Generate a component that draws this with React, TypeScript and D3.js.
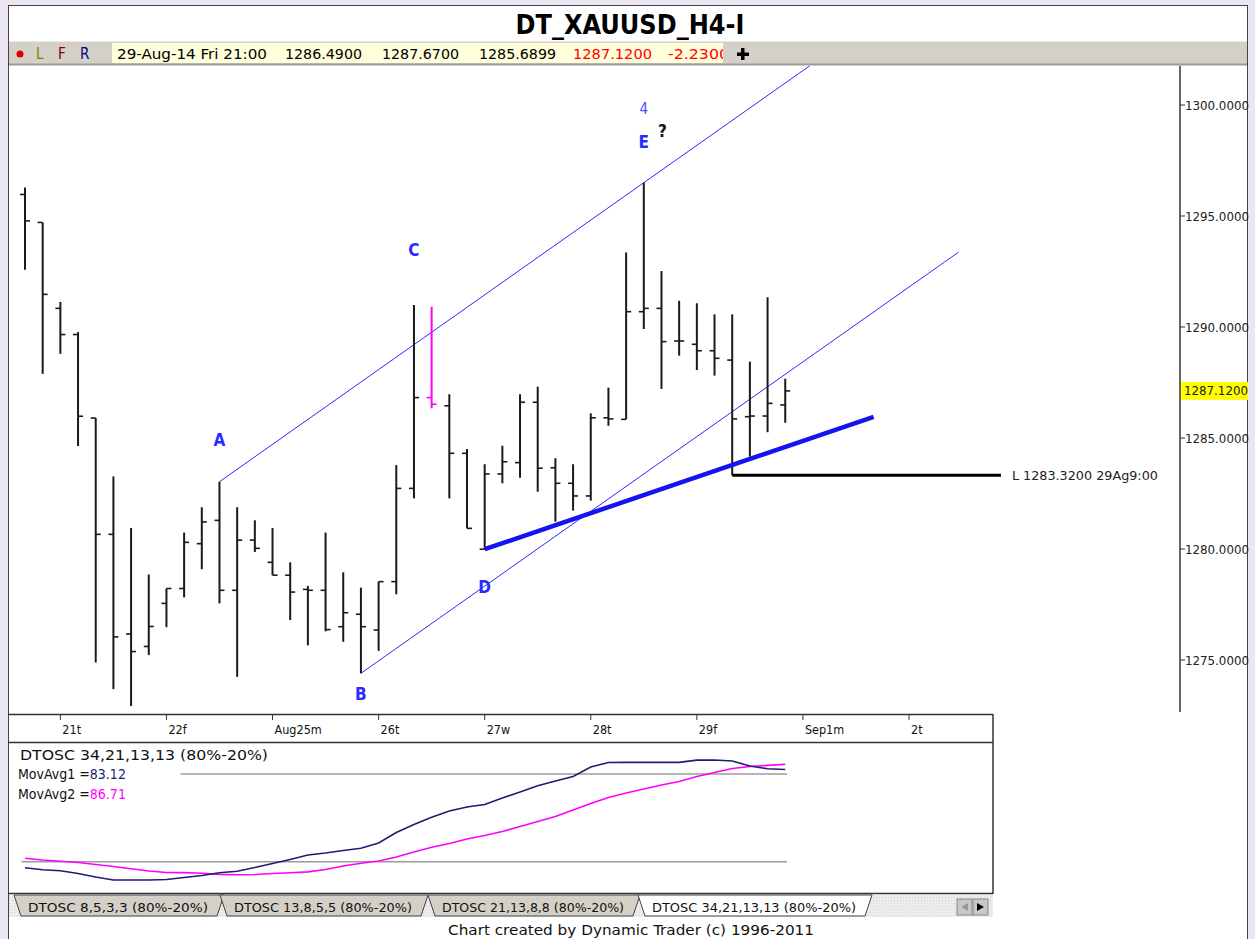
import React from 'react';
import * as d3 from 'd3';

// ---------- DATA ----------
const opens = [1295.97, 1294.71, 1290.84, 1289.66, 1285.90, 1280.66, 1276.17, 1275.61, 1277.55, 1278.22, 1280.24, 1281.29, 1278.14, 1280.40, 1279.40, 1278.82, 1278.18, 1278.14, 1276.50, 1277.06, 1276.35, 1278.53, 1282.73, 1286.82, 1286.45, 1284.31, 1279.99, 1283.38, 1283.89, 1286.61, 1283.66, 1282.96, 1282.39, 1285.91, 1285.84, 1290.69, 1290.84, 1289.37, 1289.22, 1288.93, 1288.51, 1285.96, 1285.99, 1286.49];
const highs = [1296.28, 1294.71, 1291.13, 1289.77, 1285.90, 1283.27, 1280.95, 1278.85, 1278.22, 1280.74, 1281.88, 1283.03, 1281.88, 1281.29, 1280.95, 1279.40, 1278.34, 1280.74, 1278.95, 1278.26, 1278.53, 1283.78, 1290.99, 1290.91, 1286.97, 1284.50, 1283.82, 1284.65, 1286.97, 1287.31, 1284.09, 1283.82, 1286.11, 1287.27, 1293.36, 1296.50, 1292.52, 1291.18, 1291.07, 1290.57, 1290.57, 1288.44, 1291.34, 1287.67];
const lows = [1292.58, 1287.89, 1288.79, 1284.64, 1274.89, 1273.69, 1272.93, 1275.22, 1276.48, 1277.82, 1279.09, 1277.55, 1274.24, 1279.87, 1278.82, 1276.80, 1275.66, 1276.29, 1275.82, 1274.40, 1275.41, 1277.96, 1282.28, 1286.34, 1282.28, 1280.93, 1279.99, 1282.96, 1283.21, 1282.58, 1281.23, 1281.73, 1282.18, 1285.55, 1285.84, 1289.91, 1287.21, 1288.71, 1288.06, 1287.81, 1283.32, 1284.16, 1285.26, 1285.69];
const closes = [1294.78, 1291.47, 1289.66, 1285.98, 1280.66, 1276.04, 1275.38, 1276.51, 1278.22, 1280.30, 1281.22, 1278.14, 1280.40, 1280.03, 1278.82, 1278.06, 1278.14, 1276.37, 1277.13, 1276.50, 1278.53, 1282.73, 1286.82, 1286.52, 1284.31, 1280.93, 1283.38, 1283.93, 1286.61, 1283.64, 1282.96, 1282.39, 1285.91, 1285.86, 1290.69, 1290.84, 1289.34, 1289.37, 1288.93, 1288.59, 1285.86, 1285.99, 1286.56, 1287.12];
const markedBar = 23;

const dayTickIdx = [2, 8, 14, 20, 26, 32, 38, 44, 50];
const dayLabels = ['21t', '22f', 'Aug25m', '26t', '27w', '28t', '29f', 'Sep1m', '2t'];
const priceTicks = [1275, 1280, 1285, 1290, 1295, 1300];
const lastPrice = 1287.12;

const movAvg1 = [15.9, 14.5, 13.8, 12.0, 9.6, 7.5, 7.5, 7.5, 7.9, 9.2, 10.6, 12.5, 13.5, 16.1, 18.8, 21.6, 24.6, 26.0, 27.7, 29.2, 32.8, 40.0, 45.5, 50.4, 54.7, 57.5, 59.2, 63.6, 67.7, 72.0, 75.3, 78.3, 84.8, 87.9, 88.0, 88.0, 88.0, 88.0, 89.5, 89.6, 88.9, 85.5, 83.6, 83.12];
const movAvg2 = [22.4, 21.2, 20.3, 19.5, 18.1, 16.8, 15.2, 13.7, 12.7, 12.6, 12.1, 11.4, 11.1, 11.3, 12.0, 12.5, 13.1, 14.7, 17.1, 19.0, 20.5, 23.3, 26.7, 29.9, 32.5, 35.6, 38.0, 40.7, 44.1, 47.5, 51.0, 55.4, 59.9, 64.0, 67.0, 69.8, 72.5, 74.9, 78.3, 81.1, 83.8, 85.2, 85.9, 86.71];
const oscLevels = [80, 20];

// wave labels: [text, bar index, price]
const waveLabels: [string, number, number][] = [
  ['A', 11, 1284.9], ['B', 19, 1273.47], ['C', 22, 1293.47], ['D', 26, 1278.29], ['E', 35, 1298.33],
];
// trend lines: [startIdx, startPrice, endIdx, endPrice]
const upperChannel = [11, 1283.03, 35, 1296.5];
const lowerChannelStart = [19, 1274.4];
const lowerChannelEndIdx = 52.8;
const thickLine = [26, 1279.99, 48.0, 1285.95];
const lowLine = [40, 1283.32, 55.2];
const lowLabel = 'L 1283.3200 29Ag9:00';

const infoDate = '29-Aug-14 Fri 21:00';
const infoOHL = ['1286.4900', '1287.6700', '1285.6899'];
const infoClose = ['1287.1200', '-2.2300'];
const tabs = ['DTOSC 8,5,3,3 (80%-20%)', 'DTOSC 13,8,5,5 (80%-20%)', 'DTOSC 21,13,8,8 (80%-20%)', 'DTOSC 34,21,13,13 (80%-20%)'];

// ---------- LAYOUT ----------
const W = 1255, H = 939;
const FONT = "Tahoma, 'DejaVu Sans Condensed', 'DejaVu Sans', sans-serif";
const tabX = [[14, 224], [220, 428], [428, 640], [638, 872]];

export default function App() {
  const x = d3.scaleLinear().domain([0, 50]).range([25, 909]);
  const y = d3.scaleLinear().domain([1275, 1300]).range([660, 105]);
  const yo = d3.scaleLinear().domain([0, 100]).range([891, 744.8]);
  const oscLine = d3.line<number>().x((_, i) => x(i)).y((v) => yo(v));

  const slope = (upperChannel[3] - upperChannel[1]) / (upperChannel[2] - upperChannel[0]);
  const upEndIdx = 50;
  const upEndP = upperChannel[1] + slope * (upEndIdx - upperChannel[0]);
  const loEndP = lowerChannelStart[1] + slope * (lowerChannelEndIdx - lowerChannelStart[0]);

  const blue = '#2a2aff';
  const fmt = d3.format('.4f');

  return (
    <div style={{ position: 'absolute', left: 0, top: 0 }}>
      <svg width={W} height={H} style={{ display: 'block', fontFamily: FONT }}>
        <defs>
          <clipPath id="pricePanel">
            <rect x={9} y={66} width={1171} height={648} />
          </clipPath>
          <pattern id="hatch" width="3" height="3" patternUnits="userSpaceOnUse">
            <rect width="3" height="3" fill="#ececec" />
            <rect width="1" height="1" fill="#d8d8d8" />
          </pattern>
        </defs>
        <rect width={W} height={H} fill="#ECE6F2" />
        <rect x={8.5} y={5.5} width={1239} height={940} fill="#fff" stroke="#444" strokeWidth={1} />

        {/* title */}
        <text x={630} y={34} textAnchor="middle" fontWeight="bold" fontSize={27} textLength={229} lengthAdjust="spacingAndGlyphs" fill="#000">DT_XAUUSD_H4-I</text>

        {/* info bar */}
        <rect x={9} y={41} width={1238} height={23} fill="#D4D0C8" />
        <line x1={9} x2={1247} y1={41} y2={41} stroke="#fff" />
        <line x1={9} x2={1247} y1={64.5} y2={64.5} stroke="#9a9a9a" strokeWidth={2} />
        <circle cx={20} cy={54} r={3.5} fill="#e00000" />
        <text x={36} y={59} fontSize={15} fill="#808000">L</text>
        <text x={58} y={59} fontSize={15} fill="#800000">F</text>
        <text x={80} y={59} fontSize={15} fill="#000080">R</text>
        <rect x={112} y={43} width={611} height={20} fill="#FFFFDC" />
        <text x={117} y={59} fontSize={14} textLength={150} lengthAdjust="spacingAndGlyphs">{infoDate}</text>
        {infoOHL.map((t, i) => (
          <text key={t} x={285 + i * 97} y={59} fontSize={14} textLength={77} lengthAdjust="spacingAndGlyphs">{t}</text>
        ))}
        <text x={573} y={59} fontSize={14} fill="#ff0000" textLength={79} lengthAdjust="spacingAndGlyphs">{infoClose[0]}</text>
        <svg x={660} y={43} width={63} height={20}>
          <text x={8} y={16} fontSize={14} fill="#ff0000" textLength={61} lengthAdjust="spacingAndGlyphs">{infoClose[1]}</text>
        </svg>
        <rect x={741} y={48} width={3.5} height={12} fill="#000" />
        <rect x={737} y={52.5} width={12} height={3.5} fill="#000" />

        {/* price panel */}
        <g clipPath="url(#pricePanel)">
          {/* channel lines */}
          <line x1={x(upperChannel[0])} y1={y(upperChannel[1])} x2={x(upEndIdx)} y2={y(upEndP)} stroke={blue} strokeWidth={1} />
          <line x1={x(lowerChannelStart[0])} y1={y(lowerChannelStart[1])} x2={x(lowerChannelEndIdx)} y2={y(loEndP)} stroke={blue} strokeWidth={1} />
          {/* bars */}
          {opens.map((o, i) => {
            const xi = x(i);
            const col = i === markedBar ? '#ff00ff' : '#1a1a1a';
            return (
              <g key={i}>
                <line x1={xi} x2={xi} y1={y(highs[i])} y2={y(lows[i])} stroke={col} strokeWidth={2} />
                <line x1={xi - 5} x2={xi} y1={y(o)} y2={y(o)} stroke={col} strokeWidth={1.6} />
                <line x1={xi} x2={xi + 5} y1={y(closes[i])} y2={y(closes[i])} stroke={col} strokeWidth={1.6} />
              </g>
            );
          })}
          {/* thick trend line */}
          <line x1={x(thickLine[0])} y1={y(thickLine[1])} x2={x(thickLine[2])} y2={y(thickLine[3])} stroke="#1414f0" strokeWidth={4.5} />
          {/* low line */}
          <line x1={x(lowLine[0])} y1={y(lowLine[1])} x2={x(lowLine[2])} y2={y(lowLine[1])} stroke="#000" strokeWidth={3} />
          <text x={x(lowLine[2]) + 11} y={y(lowLine[1]) + 4.5} fontSize={12.5} fill="#222" textLength={146} lengthAdjust="spacingAndGlyphs">{lowLabel}</text>
          {/* wave labels */}
          {waveLabels.map(([t, i, p]) => (
            <text key={t} x={x(i)} y={y(p) + 6} textAnchor="middle" fontSize={17} fontWeight="bold" fill={blue}>{t}</text>
          ))}
          <text x={x(35)} y={y(1299.82) + 5} textAnchor="middle" fontSize={15} fill="#5050ff">4</text>
          <text x={x(36) + 1} y={y(1298.83) + 6} textAnchor="middle" fontSize={17} fontWeight="bold" fill="#111">?</text>
        </g>

        {/* right price axis */}
        <line x1={1180} x2={1180} y1={66} y2={712} stroke="#333" strokeWidth={1.5} />
        {priceTicks.map((p) => (
          <g key={p}>
            <line x1={1180} x2={1185} y1={y(p)} y2={y(p)} stroke="#333" />
            <text x={1185} y={y(p) + 4.5} fontSize={12.5} fill="#222" textLength={64} lengthAdjust="spacingAndGlyphs">{fmt(p)}</text>
          </g>
        ))}
        <rect x={1181} y={y(lastPrice) - 9} width={67} height={18} fill="#ffff00" />
        <text x={1184} y={y(lastPrice) + 4.5} fontSize={12.5} fill="#222" textLength={64} lengthAdjust="spacingAndGlyphs">{fmt(lastPrice)}</text>

        {/* x axis */}
        <line x1={8} x2={993} y1={714.5} y2={714.5} stroke="#333" strokeWidth={1.5} />
        {dayTickIdx.map((di, k) => (
          <g key={di}>
            <line x1={x(di)} x2={x(di)} y1={714} y2={720} stroke="#333" />
            <text x={x(di) + 2} y={734} fontSize={12.5} fill="#111">{dayLabels[k]}</text>
          </g>
        ))}

        {/* oscillator panel */}
        <line x1={8} x2={993} y1={742.5} y2={742.5} stroke="#333" strokeWidth={1.5} />
        <line x1={993} x2={993} y1={714} y2={894} stroke="#333" strokeWidth={1.5} />
        <line x1={8} x2={993} y1={893.5} y2={893.5} stroke="#333" strokeWidth={1.5} />
        <line x1={x(8.8)} x2={x(43.1)} y1={yo(oscLevels[0])} y2={yo(oscLevels[0])} stroke="#9c9c9c" strokeWidth={1.5} />
        <line x1={x(-0.2)} x2={x(43.1)} y1={yo(oscLevels[1])} y2={yo(oscLevels[1])} stroke="#9c9c9c" strokeWidth={1.5} />
        <path d={oscLine(movAvg2) || ''} fill="none" stroke="#ff00ff" strokeWidth={1.6} />
        <path d={oscLine(movAvg1) || ''} fill="none" stroke="#1e1e6e" strokeWidth={1.6} />
        <text x={20} y={760} fontSize={14} fill="#111" textLength={248} lengthAdjust="spacingAndGlyphs">DTOSC 34,21,13,13 (80%-20%)</text>
        <text x={18} y={779} fontSize={14} fill="#111">MovAvg1 =<tspan fill="#1e1e6e">{movAvg1[movAvg1.length - 1].toFixed(2)}</tspan></text>
        <text x={18} y={799} fontSize={14} fill="#111">MovAvg2 =<tspan fill="#ff00ff">{movAvg2[movAvg2.length - 1].toFixed(2)}</tspan></text>

        {/* tab strip */}
        <rect x={9} y={895} width={984} height={22} fill="url(#hatch)" />
        {tabs.map((t, i) => {
          const [x0, x1] = tabX[i];
          const active = i === tabs.length - 1;
          return (
            <g key={t}>
              <polygon points={`${x0},895 ${x1},895 ${x1 - 7},916 ${x0 + 7},916`} fill={active ? '#fff' : '#D4D0C8'} stroke="#444" strokeWidth={1} />
              <text x={x0 + 14} y={912} fontSize={13} fill="#111" textLength={x1 - x0 - 30} lengthAdjust="spacingAndGlyphs">{t}</text>
            </g>
          );
        })}
        <rect x={957} y={899} width={15} height={16} fill="#C8C8C8" stroke="#888" />
        <rect x={973} y={899} width={15} height={16} fill="#C8C8C8" stroke="#888" />
        <path d="M968,903 L961,907 L968,911 Z" fill="#999" />
        <path d="M977,903 L984,907 L977,911 Z" fill="#000" />

        {/* footer */}
        <text x={631} y={935} textAnchor="middle" fontSize={14} fill="#111" textLength={366} lengthAdjust="spacingAndGlyphs">Chart created by Dynamic Trader  (c) 1996-2011</text>
      </svg>
    </div>
  );
}
